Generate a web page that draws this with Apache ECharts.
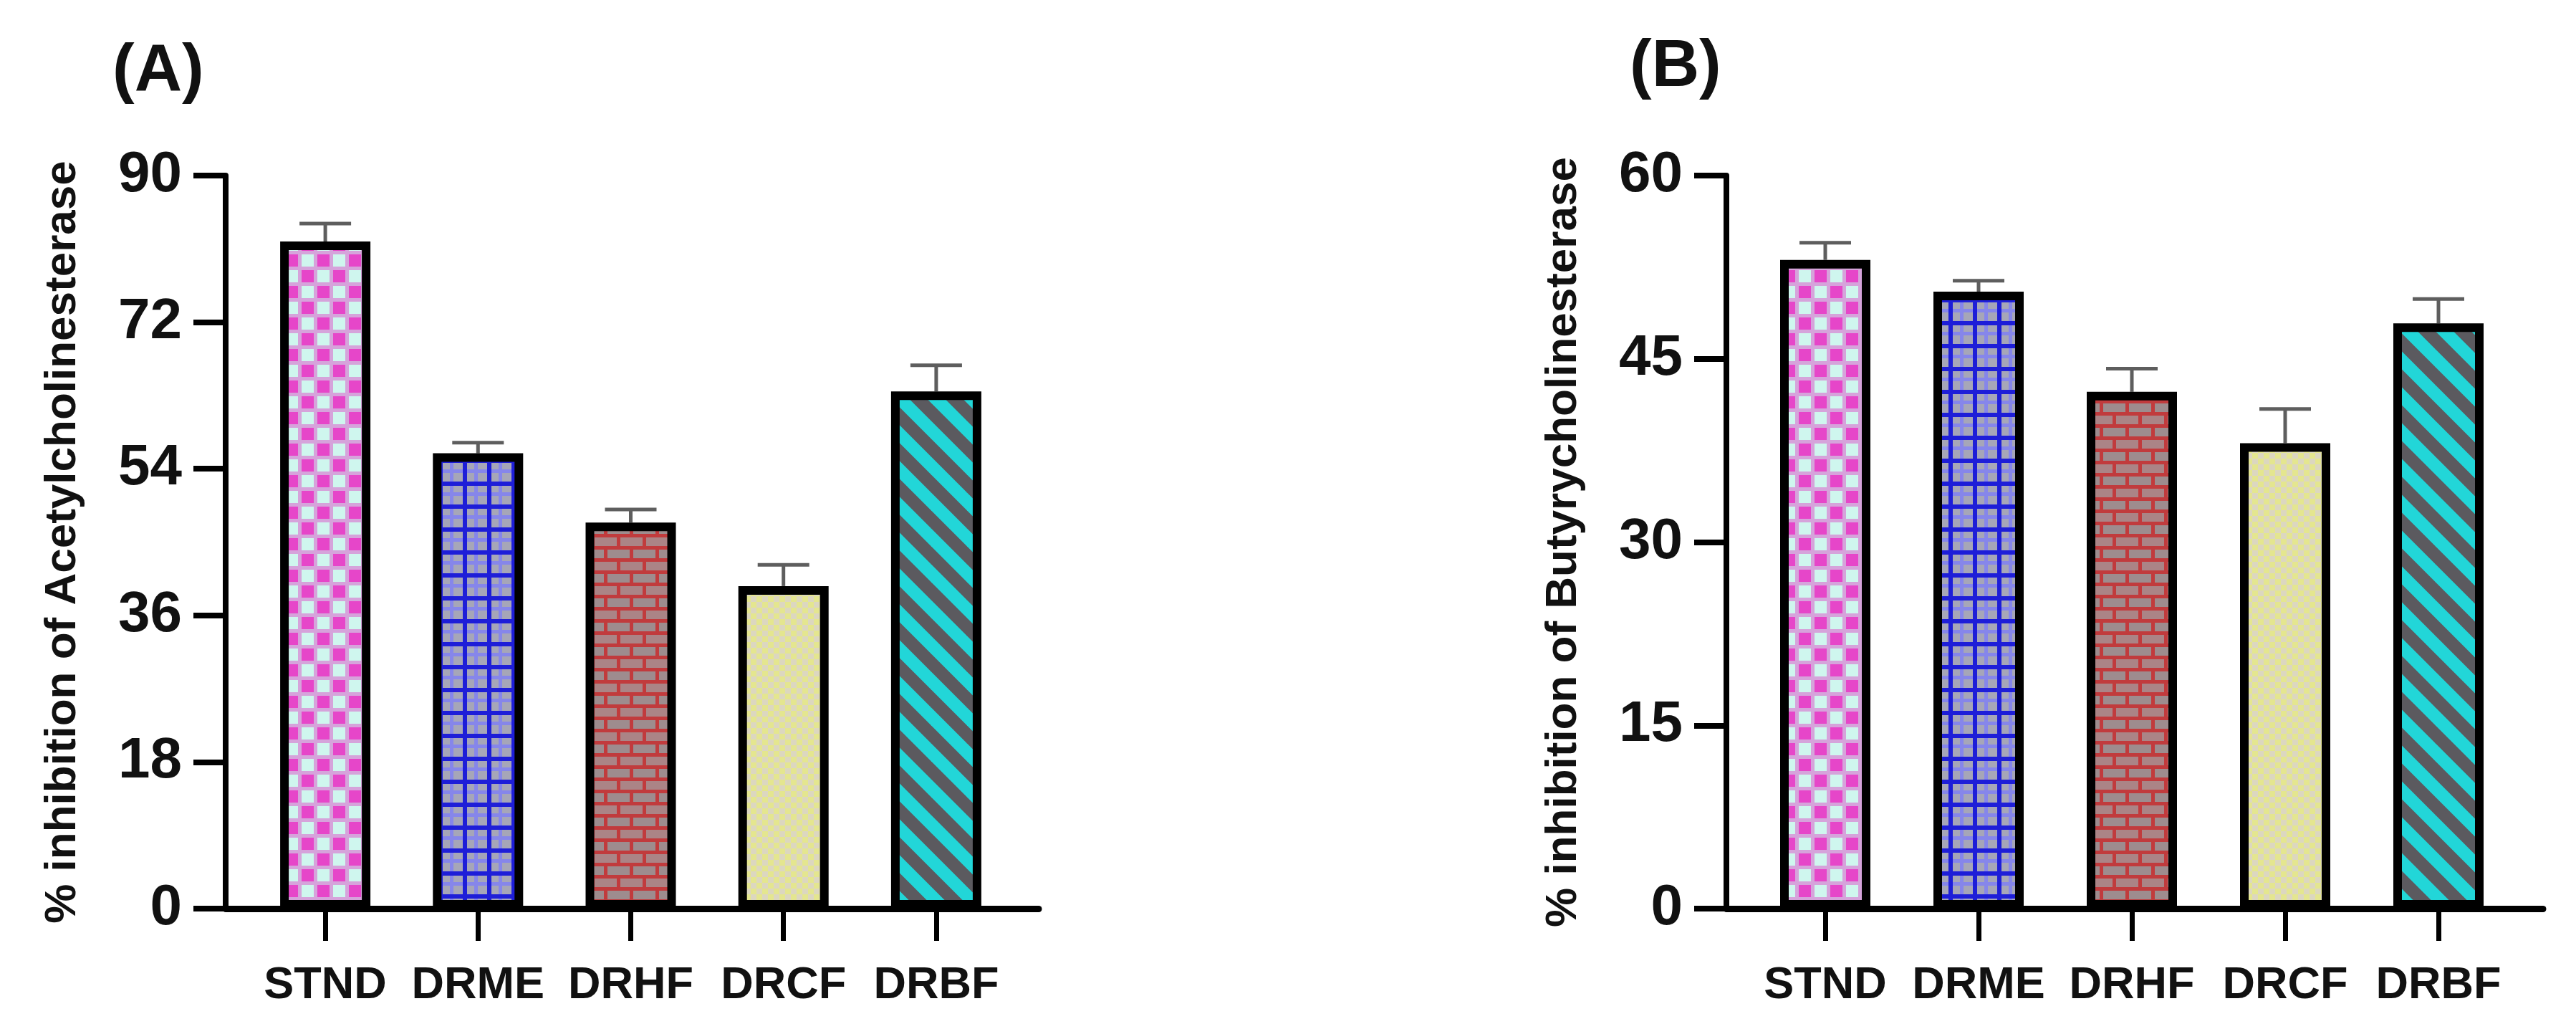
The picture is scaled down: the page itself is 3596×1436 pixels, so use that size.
<!DOCTYPE html>
<html><head><meta charset="utf-8">
<script src="https://cdn.jsdelivr.net/npm/echarts@6/dist/echarts.min.js"></script>
<style>html,body{margin:0;padding:0;background:#fff}#c{width:3596px;height:1436px}</style>
</head><body><div id="c"></div>
<script>
// ---- data ----
const categories = ['STND', 'DRME', 'DRHF', 'DRCF', 'DRBF'];
const acheMean = [81.9, 55.9, 47.4, 39.6, 63.5];
const acheErr = [2.2, 1.3, 1.6, 2.6, 3.2];
const bcheMean = [53.1, 50.5, 42.3, 38.1, 47.9];
const bcheErr = [1.4, 0.9, 1.9, 2.8, 2.0];
const acheAxis = { min: 0, max: 90, interval: 18 };
const bcheAxis = { min: 0, max: 60, interval: 15 };
const panelTitles = ['(A)', '(B)'];
const axisNames = ['% inhibition of Acetylcholinesterase', '% inhibition of Butyrycholinesterase'];

// ---- fill patterns ----
function tile(w, h, draw) {
  const c = document.createElement('canvas');
  c.width = w; c.height = h;
  const g = c.getContext('2d');
  draw(g, w, h);
  return { image: c, repeat: 'repeat' };
}
const patterns = [
  tile(44, 44, g => {
    g.fillStyle = '#d6a3db'; g.fillRect(0, 0, 44, 44);
    g.fillStyle = '#e646c9'; g.fillRect(3, 3, 17, 17); g.fillRect(25, 25, 17, 17);
    g.fillStyle = '#cff6ee'; g.fillRect(25, 3, 17, 17); g.fillRect(3, 25, 17, 17);
  }),
  tile(34, 32, g => {
    g.fillStyle = '#a6a6b8'; g.fillRect(0, 0, 34, 32);
    g.fillStyle = '#8686ea'; g.fillRect(16, 0, 5, 32); g.fillRect(0, 15, 34, 5);
    g.fillStyle = '#1e1ed8'; g.fillRect(0, 0, 6, 32); g.fillRect(0, 0, 34, 6);
  }),
  tile(36, 34, g => {
    g.fillStyle = '#c13b3d'; g.fillRect(0, 0, 36, 34);
    g.fillStyle = '#ab8486'; g.fillRect(2, 2, 31, 12);
    g.fillStyle = '#9e8c8e'; g.fillRect(0, 19, 15, 12); g.fillRect(20, 19, 16, 12);
  }),
  tile(16, 16, g => {
    g.fillStyle = '#dcd7c0'; g.fillRect(0, 0, 16, 16);
    g.fillStyle = '#e4e68f'; g.fillRect(0, 0, 8, 8); g.fillRect(8, 8, 8, 8);
  }),
  tile(50, 50, g => {
    g.fillStyle = '#5b5a5f'; g.fillRect(0, 0, 50, 50);
    g.strokeStyle = '#22d6d8'; g.lineWidth = 17.7;
    for (let k = -2; k <= 2; k++) {
      g.beginPath(); g.moveTo(k * 50 - 50, -50); g.lineTo(k * 50 + 100, 100); g.stroke();
    }
  })
];

const FONT = "'Liberation Sans', Arial, sans-serif";

function errRender(params, api) {
  const b = api.coord([api.value(0), api.value(1)]);
  const t = api.coord([api.value(0), api.value(2)]);
  const hw = 36;
  const st = { stroke: '#5e5e5e', lineWidth: 5 };
  return { type: 'group', children: [
    { type: 'line', shape: { x1: b[0], y1: b[1], x2: t[0], y2: t[1] }, style: st },
    { type: 'line', shape: { x1: t[0] - hw, y1: t[1], x2: t[0] + hw, y2: t[1] }, style: st }
  ]};
}

function frameX(gi) {
  return { gridIndex: gi, type: 'value', min: 0, max: 1,
    axisLine: { show: true, lineStyle: { color: '#000', width: 9 } },
    axisTick: { show: false }, axisLabel: { show: false }, splitLine: { show: false } };
}
function catX(gi) {
  return { gridIndex: gi, type: 'category', data: categories,
    axisLine: { show: false },
    axisTick: { show: true, interval: 0, alignWithLabel: true, length: 45, lineStyle: { color: '#000', width: 7 } },
    axisLabel: { interval: 0, fontSize: 63, fontWeight: 'bold', color: '#111', margin: 76, fontFamily: FONT },
    splitLine: { show: false } };
}
function frameY(gi, ax, name) {
  return { gridIndex: gi, type: 'value', min: ax.min, max: ax.max, interval: ax.interval,
    name: name, nameLocation: 'middle', nameGap: 196, nameRotate: 90,
    nameTextStyle: { fontSize: 62, fontWeight: 'bold', color: '#111', fontFamily: FONT },
    axisLine: { show: true, lineStyle: { color: '#000', width: 8 } },
    axisTick: { show: true, length: 45, lineStyle: { color: '#000', width: 8 } },
    axisLabel: { fontSize: 80, fontWeight: 'bold', color: '#111', margin: 61, fontFamily: FONT },
    splitLine: { show: false } };
}
function hiddenY(gi, ax) {
  return { gridIndex: gi, type: 'value', min: ax.min, max: ax.max, show: false, splitLine: { show: false } };
}
function barSeries(xi, mean) {
  return { type: 'bar', xAxisIndex: xi, yAxisIndex: xi, barWidth: 126, z: 3,
    data: mean.map((v, i) => ({ value: v, itemStyle: { color: patterns[i] } })),
    itemStyle: { borderColor: '#000', borderWidth: 12 } };
}
function errSeries(xi, mean, err) {
  return { type: 'custom', xAxisIndex: xi, yAxisIndex: xi, z: 2,
    renderItem: errRender,
    data: mean.map((v, i) => [i, v, v + err[i]]) };
}

const chart = echarts.init(document.getElementById('c'), null, { renderer: 'canvas' });
chart.setOption({
  animation: false,
  backgroundColor: '#fff',
  title: [
    { text: panelTitles[0], left: 152, top: 50, textStyle: { fontSize: 92, fontWeight: 'bold', color: '#111', fontFamily: FONT } },
    { text: panelTitles[1], left: 2270, top: 44, textStyle: { fontSize: 92, fontWeight: 'bold', color: '#111', fontFamily: FONT } }
  ],
  grid: [
    { left: 315, top: 245, width: 1135, height: 1023 },
    { left: 347.5, top: 245, width: 1066, height: 1023 },
    { left: 2410, top: 245, width: 1140, height: 1023 },
    { left: 2441, top: 245, width: 1070, height: 1023 }
  ],
  xAxis: [frameX(0), catX(1), frameX(2), catX(3)],
  yAxis: [frameY(0, acheAxis, axisNames[0]), hiddenY(1, acheAxis), frameY(2, bcheAxis, axisNames[1]), hiddenY(3, bcheAxis)],
  series: [
    errSeries(1, acheMean, acheErr), barSeries(1, acheMean),
    errSeries(3, bcheMean, bcheErr), barSeries(3, bcheMean)
  ]
});
</script>
</body></html>
